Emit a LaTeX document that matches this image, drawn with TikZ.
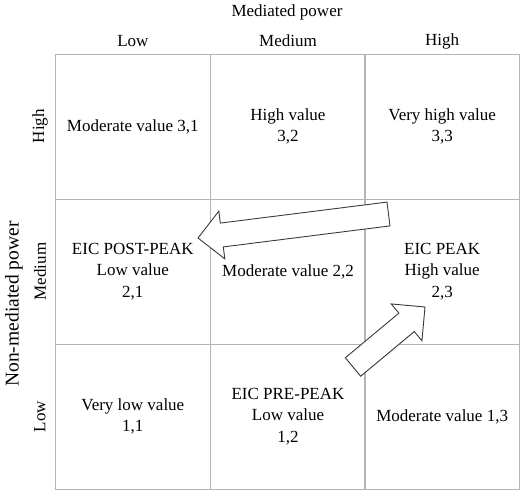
\documentclass[tikz,border=0pt]{standalone}
\usepackage{fontspec}
\setmainfont{Liberation Serif}
\usetikzlibrary{calc}
\definecolor{gridgray}{HTML}{B4B4B4}
\definecolor{arrowgray}{HTML}{3A3A3A}
\begin{document}
\begin{tikzpicture}[x=1pt,y=-1pt,
  cell/.style={draw=gridgray, line width=0.8pt, minimum width=154.67pt, minimum height=145pt, inner sep=0pt},
  lbl/.style={font=\fontsize{17}{21.5}\selectfont, align=center, inner sep=0pt},
  hdr/.style={font=\fontsize{17}{21.5}\selectfont, inner sep=0pt},
  axislbl/.style={font=\fontsize{19.5}{23}\selectfont, inner sep=0pt},
  blockarrow/.style={draw=arrowgray, line width=0.9pt, fill=white, line join=miter}]
\useasboundingbox (0,0) rectangle (520,490);

% grid cells
\node[cell] (c31) at (132.83,126.5) {};
\node[cell] (c32) at (288,126.5) {};
\node[cell] (c33) at (442.17,126.5) {};
\node[cell] (c21) at (132.83,271.5) {};
\node[cell] (c22) at (288,271.5) {};
\node[cell] (c23) at (442.17,271.5) {};
\node[cell] (c11) at (132.83,416.5) {};
\node[cell] (c12) at (288,416.5) {};
\node[cell] (c13) at (442.17,416.5) {};

% headers
\node[hdr] (mp) at (287,12) {Mediated power};
\node[hdr] (hlow) at (132.83,41) {Low};
\node[hdr] (hmed) at (288,41) {Medium};
\node[hdr] (hhigh) at (442.17,41) {High};
\node[axislbl, rotate=90] (nmp) at (14,304) {Non-mediated power};
\node[hdr, rotate=90] (vhigh) at (40,126) {High};
\node[hdr, rotate=90] (vmed) at (40,271.5) {Medium};
\node[hdr, rotate=90] (vlow) at (40,416.5) {Low};

% cell texts
\node[lbl] (t31) at (c31) {Moderate value 3,1};
\node[lbl] (t32) at (c32) {High value\\3,2};
\node[lbl] (t33) at (c33) {Very high value\\3,3};
\node[lbl] (t21) at (c21) {EIC POST-PEAK\\Low value\\2,1};
\node[lbl] (t22) at (c22) {Moderate value 2,2};
\node[lbl] (t23) at (c23) {EIC PEAK\\High value\\2,3};
\node[lbl] (t11) at (c11) {Very low value\\1,1};
\node[lbl] (t12) at (c12) {EIC PRE-PEAK\\Low value\\1,2};
\node[lbl] (t13) at (c13) {Moderate value 1,3};

% block arrows
\coordinate (a1t) at (388.5,214);
\coordinate (a1h) at (198,238);
\coordinate (a1b) at ($(a1h)!24pt!(a1t)$);
\draw[blockarrow]
  ($(a1t)!12pt!90:(a1h)$) -- ($(a1b)!12pt!-90:(a1t)$) -- ($(a1b)!24pt!-90:(a1t)$)
  -- (a1h) -- ($(a1b)!24pt!90:(a1t)$) -- ($(a1b)!12pt!90:(a1t)$)
  -- ($(a1t)!12pt!-90:(a1h)$) -- cycle;

\coordinate (a2t) at (353,367);
\coordinate (a2h) at (425,307);
\coordinate (a2b) at ($(a2h)!24pt!(a2t)$);
\draw[blockarrow]
  ($(a2t)!12pt!90:(a2h)$) -- ($(a2b)!12pt!-90:(a2t)$) -- ($(a2b)!24pt!-90:(a2t)$)
  -- (a2h) -- ($(a2b)!24pt!90:(a2t)$) -- ($(a2b)!12pt!90:(a2t)$)
  -- ($(a2t)!12pt!-90:(a2h)$) -- cycle;
\end{tikzpicture}
\end{document}
